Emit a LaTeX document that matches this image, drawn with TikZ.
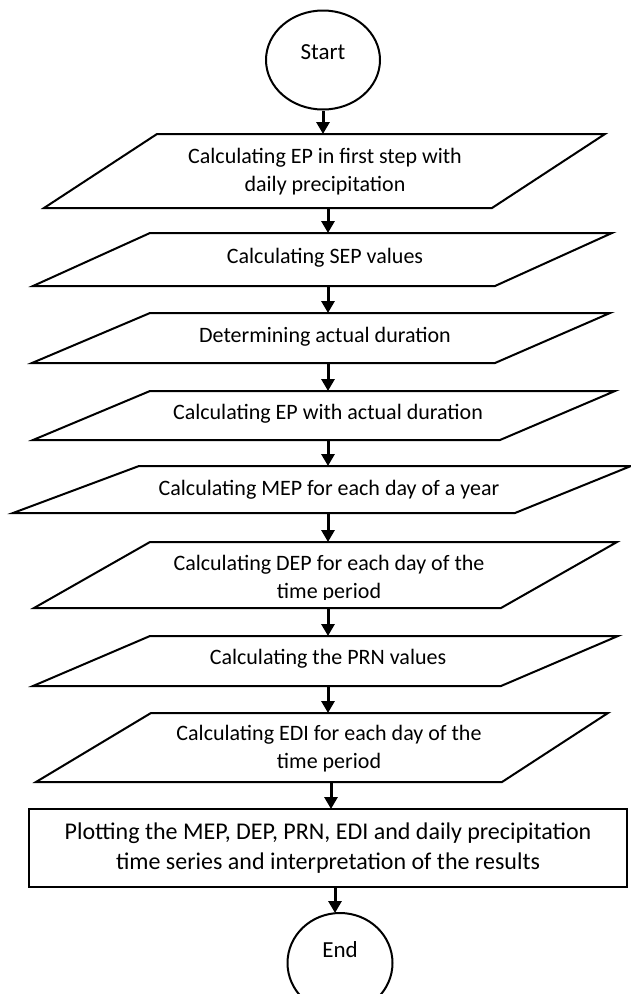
\documentclass[tikz,border=0pt]{standalone}
\usepackage{fontspec}
\setmainfont{Carlito}
\usetikzlibrary{arrows.meta,shapes.geometric}
\tikzset{
  shapeline/.style={draw=black, line width=2pt, line join=miter},
  arr/.style={draw=black, line width=3pt, -{Triangle[length=12pt,width=13pt]}},
  lbl/.style={font=\fontsize{22}{28}\selectfont, align=center, inner sep=0pt},
  biglbl/.style={font=\fontsize{24}{30}\selectfont, align=center},
  termin/.style={draw=black, ellipse, line width=2pt, inner sep=0pt},
}
\begin{document}
\begin{tikzpicture}[x=1pt,y=-1pt]
\useasboundingbox (0,0) rectangle (631,994);
\clip (0,0) rectangle (631,994);

% Start
\node[termin, minimum width=114pt, minimum height=99pt] (start) at (323,60) {};
\node[lbl, font=\fontsize{23}{28}\selectfont] (starttxt) at ([yshift=8pt]start.center) {Start};

% P1
\draw[shapeline] (157,134) -- (605,134) -- (492,208) -- (44,208) -- cycle;
\node[lbl] (p1) at (325,172) {Calculating EP in first step with\\daily precipitation};
\coordinate (p1t) at (323,134); \coordinate (p1b) at (328,208);

% P2
\draw[shapeline] (150,233) -- (612,233) -- (495,286) -- (33,286) -- cycle;
\node[lbl] (p2) at (325,258) {Calculating SEP values};
\coordinate (p2t) at (328,233); \coordinate (p2b) at (328,286);

% P3
\draw[shapeline] (150,313) -- (610,313) -- (495,363) -- (32,363) -- cycle;
\node[lbl] (p3) at (325,337) {Determining actual duration};
\coordinate (p3t) at (328,313); \coordinate (p3b) at (328,363);

% P4
\draw[shapeline] (150,391) -- (615,391) -- (500,440) -- (33,440) -- cycle;
\node[lbl] (p4) at (328,414) {Calculating EP with actual duration};
\coordinate (p4t) at (328,391); \coordinate (p4b) at (328,440);

% P5
\draw[shapeline] (139,466) -- (631,466) -- (515,513) -- (13,513) -- cycle;
\node[lbl] (p5) at (329,490) {Calculating MEP for each day of a year};
\coordinate (p5t) at (328,466); \coordinate (p5b) at (328,513);

% P6
\draw[shapeline] (150,542) -- (617,542) -- (501,608) -- (34,608) -- cycle;
\begin{scope}
\clip (0,540) rectangle (631,599);
\node[lbl] (p6) at (329,579) {Calculating DEP for each day of the\\time period};
\end{scope}
\coordinate (p6t) at (328,542); \coordinate (p6b) at (328,608);

% P7
\draw[shapeline] (150,636) -- (618,636) -- (501,686) -- (33,686) -- cycle;
\node[lbl] (p7) at (328,659) {Calculating the PRN values};
\coordinate (p7t) at (328,636); \coordinate (p7b) at (328,686);

% P8
\draw[shapeline] (151,713) -- (608,713) -- (502,782) -- (36,782) -- cycle;
\node[lbl] (p8) at (329,749) {Calculating EDI for each day of the\\time period};
\coordinate (p8t) at (328,713); \coordinate (p8b) at (331,782);

% Rectangle
\node[draw=black, line width=2pt, minimum width=598pt, minimum height=78pt, inner sep=0pt, biglbl] (plot) at (328,848)
  {Plotting the MEP, DEP, PRN, EDI and daily precipitation\\time series and interpretation of the results};
\coordinate (plotin) at (331,809); \coordinate (plotout) at (335,887);

% End
\node[termin, minimum width=105pt, minimum height=100pt] (end) at (340,963) {};
\node[lbl, font=\fontsize{23}{28}\selectfont] (endtxt) at ([yshift=13pt]end.center) {End};
\coordinate (endin) at (335,913);

% Connectors
\draw[arr] (start.south) -- (p1t);
\draw[arr] (p1b) -- (p2t);
\draw[arr] (p2b) -- (p3t);
\draw[arr] (p3b) -- (p4t);
\draw[arr] (p4b) -- (p5t);
\draw[arr] (p5b) -- (p6t);
\draw[arr] (p6b) -- (p7t);
\draw[arr] (p7b) -- (p8t);
\draw[arr] (p8b) -- (plotin);
\draw[arr] (plotout) -- (endin);
\end{tikzpicture}
\end{document}
